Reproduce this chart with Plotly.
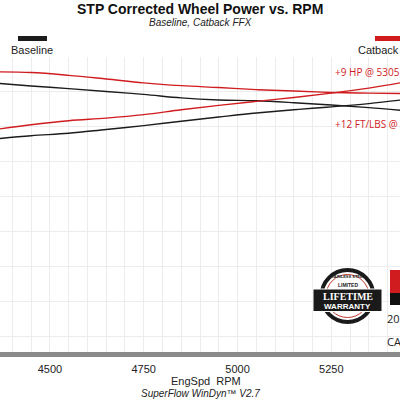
import plotly.graph_objects as go

rpm = [4350, 4450, 4550, 4650, 4750, 4850, 4950, 5050, 5150, 5250, 5350, 5450]
catback_tq = [311.5, 311.1, 309.5, 307.4, 305.2, 303.6, 302.5, 301.3, 300.5, 299.7, 299.3, 299.0]
baseline_tq = [305.1, 303.4, 301.9, 300.2, 298.6, 296.6, 295.4, 294.9, 293.8, 292.5, 291.0, 289.2]
catback_hp = [278.3, 281.2, 283.5, 285.0, 287.0, 289.8, 292.3, 294.6, 296.8, 299.3, 302.2, 305.8]
baseline_hp = [273.0, 274.9, 276.3, 278.5, 280.7, 283.2, 285.6, 287.9, 289.8, 291.4, 293.3, 295.7]

tick_vals = list(range(4400, 5451, 50))
tick_labels = ["4500", "4750", "5000", "5250"]

RED = "#d01c1f"
BLK = "#1c1c1c"
W, H = 400, 400
T, B = 57, 48
PH = H - T - B

def px(x):
    return x / W

def py(y):
    return (H - B - y) / PH

fig = go.Figure()
for ys, c in [(baseline_tq, BLK), (baseline_hp, BLK), (catback_tq, RED), (catback_hp, RED)]:
    fig.add_trace(go.Scatter(x=rpm, y=ys, mode="lines", line=dict(color=c, width=1.4, shape="spline"),
                             showlegend=False, hoverinfo="skip"))

ann = []
def text(x, y, t, size=11, color="#222", anchor="center", font="Liberation Sans", bold=False, italic=False):
    if bold:
        t = "<b>" + t + "</b>"
    if italic:
        t = "<i>" + t + "</i>"
    ann.append(dict(x=px(x), y=py(y), xref="paper", yref="paper", text=t, showarrow=False,
                    xanchor=anchor, yanchor="middle", font=dict(size=size, color=color, family=font)))

text(200, 9, "STP Corrected Wheel Power vs. RPM", size=14, color="#111", bold=True)
text(200, 22, "Baseline, Catback FFX", size=10, color="#222", italic=True)
text(32, 50, "Baseline", size=11)
text(378, 50, "Catback", size=11)
text(333, 72, "+9 HP @ 5305", size=10, color=RED, anchor="left", font="Open Sans")
text(333, 124, "+12 FT/LBS @", size=10, color=RED, anchor="left", font="Open Sans")
text(206, 381, "EngSpd  RPM", size=11)
text(201, 393, "SuperFlow WinDyn™ V2.7", size=10, italic=True)
# badge texts
text(347.5, 296.5, "LIFETIME", size=10, color="white", bold=True, font="Liberation Sans Narrow")
text(347.5, 306.5, "WARRANTY", size=8, color="white", bold=True, font="Liberation Sans")
text(347.5, 285, "LIMITED", size=5, color="#222", bold=True)
text(347.5, 276, "STAINLESS STEEL", size=4, color="#222", bold=True)
text(385, 318, "20", size=11, color="#222", anchor="left", font="Open Sans")
text(385, 341, "CA", size=11, color="#222", anchor="left", font="Open Sans")

shapes = []
def rect(x0, y0, x1, y1, fill, line=None, lw=0, kind="rect"):
    shapes.append(dict(type=kind, xref="paper", yref="paper", x0=px(x0), x1=px(x1), y0=py(y1), y1=py(y0),
                       fillcolor=fill, line=dict(color=line or fill, width=lw), layer="above"))

rect(18, 36, 47, 41, BLK)
rect(375, 36, 410, 41, RED)
# badge
rect(321.5, 270, 373.5, 322, "white", "#1a1a1a", 4, kind="circle")
rect(326, 274.5, 369, 317.5, "rgba(0,0,0,0)", "#c0392b", 1, kind="circle")
rect(313, 289, 382, 311.5, "#1a1a1a", "white", 1)
# red logo
rect(390, 270, 410, 293, RED)
rect(390, 293, 410, 305, "#111")

fig.update_layout(
    width=W, height=H,
    margin=dict(l=0, r=0, t=T, b=B, pad=0),
    paper_bgcolor="white", plot_bgcolor="white",
    annotations=ann, shapes=shapes,
    xaxis=dict(range=[4367, 5433], tickmode="array", tickvals=tick_vals,
               ticktext=[str(v) if str(v) in tick_labels else "" for v in tick_vals],
               showgrid=True, gridcolor="#ececec", gridwidth=1,
               showline=True, linecolor="#8a8a8a", linewidth=5,
               ticks="", ticklabelstandoff=3,
               tickfont=dict(size=11, color="#222", family="Liberation Sans"),
               zeroline=False, fixedrange=True),
    yaxis=dict(range=[151, 320], dtick=20, tick0=160, showticklabels=False,
               showgrid=True, gridcolor="#ececec", gridwidth=1, zeroline=False, showline=False),
    showlegend=False,
)
fig.write_html("out.html")
